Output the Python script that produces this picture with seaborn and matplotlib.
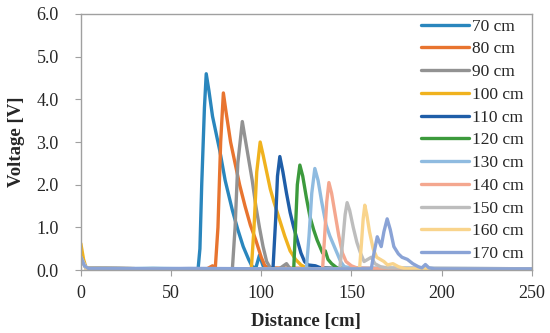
import pandas as pd
import matplotlib
matplotlib.use("Agg")
import matplotlib.pyplot as plt
from matplotlib.ticker import FormatStrFormatter
import seaborn as sns

# series labels and colours
labels = ["70 cm", "80 cm", "90 cm", "100 cm", "110 cm", "120 cm",
          "130 cm", "140 cm", "150 cm", "160 cm", "170 cm"]
colors = ["#2a86bd", "#e8742f", "#929292", "#f0b21e", "#1f5ea8", "#3c9a3c",
          "#8fbbe0", "#f4a78f", "#bdbdbd", "#f9d48c", "#8aa3d6"]

# distance [cm] / voltage [V]
x70 = [0, 3, 20, 40, 60, 65, 66, 67, 68.5, 69.5, 71, 73, 75, 77, 80, 84, 87, 90, 93, 95, 97, 99, 101, 103, 150, 250]
y70 = [0.3, 0.04, 0.03, 0.04, 0.03, 0.03, 0.5, 2.0, 3.8, 4.6, 4.2, 3.6, 3.2, 2.8, 2.1, 1.4, 0.95, 0.55, 0.25, 0.08, 0.05, 0.35, 0.1, 0.03, 0.03, 0.03]

x80 = [0, 3, 40, 70, 73, 74.5, 76, 77.5, 79, 80.5, 83, 86, 88, 91, 94, 97, 100, 102, 104, 150, 250]
y80 = [0.3, 0.04, 0.03, 0.03, 0.1, 0.03, 1.0, 3.0, 4.15, 3.7, 3.0, 2.4, 2.0, 1.5, 1.05, 0.7, 0.3, 0.1, 0.05, 0.03, 0.03]

x90 = [0, 3, 40, 84, 85.5, 87, 89.5, 91, 93, 95, 97, 99, 101, 103, 105, 110, 114, 116, 150, 250]
y90 = [0.3, 0.04, 0.03, 0.03, 1.0, 2.5, 3.48, 3.1, 2.6, 2.1, 1.5, 1.0, 0.55, 0.2, 0.05, 0.03, 0.15, 0.03, 0.03, 0.03]

x100 = [0, 1.5, 3, 40, 94.5, 96, 97.5, 99.4, 101, 103, 105, 107, 110, 113, 116, 119, 122, 125, 150, 250]
y100 = [0.62, 0.25, 0.04, 0.03, 0.03, 1.0, 2.3, 3.0, 2.7, 2.3, 1.9, 1.6, 1.2, 0.8, 0.45, 0.25, 0.12, 0.05, 0.03, 0.03]

x110 = [0, 3, 40, 106.5, 108, 109, 110.3, 112, 114, 116, 118, 120, 122, 124, 126, 130, 133, 150, 250]
y110 = [0.3, 0.04, 0.03, 0.03, 1.2, 2.2, 2.66, 2.3, 1.8, 1.35, 1.0, 0.7, 0.4, 0.2, 0.12, 0.1, 0.05, 0.03, 0.03]

x120 = [0, 3, 40, 118, 119, 120, 121.4, 123, 125, 127, 129, 131, 133, 134, 135.5, 137, 139, 142, 160, 250]
y120 = [0.3, 0.04, 0.03, 0.03, 1.0, 2.0, 2.46, 2.2, 1.7, 1.25, 0.95, 0.7, 0.5, 0.4, 0.45, 0.25, 0.15, 0.05, 0.03, 0.03]

x130 = [0, 3, 40, 125, 126.5, 128, 129.7, 131.5, 133.5, 136, 138, 140, 142, 144, 146, 150, 250]
y130 = [0.3, 0.04, 0.03, 0.03, 0.8, 1.8, 2.38, 2.1, 1.6, 1.05, 0.8, 0.6, 0.4, 0.2, 0.08, 0.05, 0.03]

x140 = [0, 3, 40, 134, 135, 136.3, 137.5, 139, 141, 143, 145, 147, 150, 153, 170, 250]
y140 = [0.3, 0.04, 0.03, 0.03, 0.7, 1.6, 2.05, 1.8, 1.3, 0.8, 0.4, 0.2, 0.1, 0.05, 0.03, 0.03]

x150 = [0, 3, 40, 143.5, 145, 146.5, 147.6, 149, 151, 153, 155, 157, 159, 161, 163, 166, 170, 250]
y150 = [0.3, 0.04, 0.03, 0.03, 0.6, 1.3, 1.58, 1.4, 1.0, 0.65, 0.4, 0.2, 0.25, 0.3, 0.15, 0.08, 0.05, 0.03]

x160 = [0, 3, 40, 154.5, 155.5, 156.5, 157.4, 158.5, 160, 162, 164, 166, 168, 170, 173, 176, 180, 250]
y160 = [0.3, 0.04, 0.03, 0.03, 0.6, 1.2, 1.52, 1.3, 0.9, 0.5, 0.3, 0.25, 0.2, 0.12, 0.15, 0.08, 0.03, 0.03]

x170 = [0, 2, 4, 20, 40, 60, 100, 140, 161, 162.5, 164.3, 166.5, 168, 169.8, 171.5, 173.5, 176, 178, 181, 184, 187, 189, 191, 193, 196, 220, 250]
y170 = [0.3, 0.1, 0.04, 0.04, 0.03, 0.04, 0.03, 0.03, 0.03, 0.4, 0.78, 0.55, 0.9, 1.2, 0.95, 0.55, 0.38, 0.3, 0.25, 0.15, 0.08, 0.05, 0.13, 0.05, 0.03, 0.03, 0.03]

xs = [x70, x80, x90, x100, x110, x120, x130, x140, x150, x160, x170]
ys = [y70, y80, y90, y100, y110, y120, y130, y140, y150, y160, y170]

rows = []
for lab, xv, yv in zip(labels, xs, ys):
    for a, b in zip(xv, yv):
        rows.append({"Distance": a, "Voltage": b, "Series": lab})
df = pd.DataFrame(rows)

sns.set_style("white")
plt.rcParams["font.family"] = ["Liberation Serif", "DejaVu Serif"]

fig = plt.figure(figsize=(5.5, 3.33), dpi=100)
ax = fig.add_axes([0.147, 0.189, 0.82, 0.769])

sns.lineplot(data=df, x="Distance", y="Voltage", hue="Series", hue_order=labels,
             palette=colors, estimator=None, sort=False, linewidth=2.4, ax=ax)

ax.set_xlim(0, 250)
ax.set_ylim(0, 6)
ax.set_xticks([0, 50, 100, 150, 200, 250])
ax.set_yticks([0, 1, 2, 3, 4, 5, 6])
ax.yaxis.set_major_formatter(FormatStrFormatter("%.1f"))
ax.set_xlabel("Distance [cm]", fontsize=13.5, fontweight="bold", labelpad=8)
ax.set_ylabel("Voltage [V]", fontsize=13.5, fontweight="bold", labelpad=8)
ax.tick_params(axis="both", labelsize=13, direction="out", length=4,
               width=0.8, color="#a0a0a0", bottom=True, left=True)
ax.tick_params(axis="x", pad=6.5)
ax.tick_params(axis="y", pad=12)
for s in ax.spines.values():
    s.set_color("#a0a0a0")
    s.set_linewidth(1)

leg = ax.legend(loc="upper left", bbox_to_anchor=(0.752, 0.986), frameon=False,
                fontsize=12.5, handlelength=2.8, handletextpad=0.15,
                labelspacing=0.38, borderpad=0.05, borderaxespad=0)
for h in leg.get_lines():
    h.set_linewidth(2.4)

fig.savefig("out.png", dpi=100)
